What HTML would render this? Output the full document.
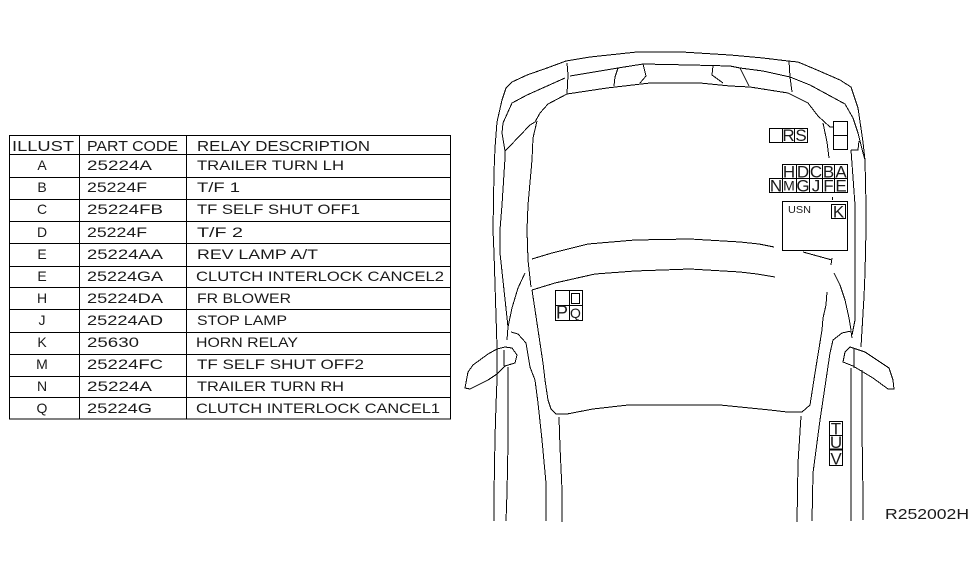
<!DOCTYPE html>
<html><head><meta charset="utf-8"><style>
html,body{margin:0;padding:0;background:#fff}
svg{display:block}
text{font-family:"Liberation Sans",sans-serif;fill:#1a1a1a;font-size:14px}
.l{font-size:17px;text-anchor:middle}
.c{text-anchor:middle;font-size:14px}
</style></head><body>
<svg width="975" height="566" viewBox="0 0 975 566" xmlns="http://www.w3.org/2000/svg">
<rect width="975" height="566" fill="#fff"/>
<g fill="none" stroke="#000" stroke-width="1" shape-rendering="crispEdges">
<rect x="9.5" y="135.5" width="441" height="283.5"/>
<path d="M79.5 135V419M186.5 135V419"/>
<path d="M9 154.5H451M9 177.5H451M9 199.5H451M9 221.5H451M9 243.5H451M9 266.5H451M9 287.5H451M9 309.5H451M9 332.5H451M9 354.5H451M9 376.5H451M9 397.5H451"/>
</g>
<g>
<text x="12" y="151" textLength="62" lengthAdjust="spacingAndGlyphs" style="font-size:15px">ILLUST</text>
<text x="87" y="151" textLength="91" lengthAdjust="spacingAndGlyphs" style="font-size:15px">PART CODE</text>
<text x="197" y="151" textLength="173" lengthAdjust="spacingAndGlyphs" style="font-size:15px">RELAY DESCRIPTION</text>
<text class="c" x="42" y="170">A</text><text class="c" x="42" y="192">B</text><text class="c" x="42" y="214">C</text><text class="c" x="42" y="237">D</text><text class="c" x="42" y="259">E</text><text class="c" x="42" y="281">E</text><text class="c" x="42" y="303">H</text><text class="c" x="42" y="325">J</text><text class="c" x="42" y="347">K</text><text class="c" x="42" y="369">M</text><text class="c" x="42" y="391">N</text><text class="c" x="42" y="413">Q</text>
<text x="87" y="170" textLength="65" lengthAdjust="spacingAndGlyphs">25224A</text>
<text x="87" y="192" textLength="60" lengthAdjust="spacingAndGlyphs">25224F</text>
<text x="87" y="214" textLength="76" lengthAdjust="spacingAndGlyphs">25224FB</text>
<text x="87" y="237" textLength="60" lengthAdjust="spacingAndGlyphs">25224F</text>
<text x="87" y="259" textLength="76" lengthAdjust="spacingAndGlyphs">25224AA</text>
<text x="87" y="281" textLength="76" lengthAdjust="spacingAndGlyphs">25224GA</text>
<text x="87" y="303" textLength="76" lengthAdjust="spacingAndGlyphs">25224DA</text>
<text x="87" y="325" textLength="76" lengthAdjust="spacingAndGlyphs">25224AD</text>
<text x="87" y="347" textLength="52" lengthAdjust="spacingAndGlyphs">25630</text>
<text x="87" y="369" textLength="76" lengthAdjust="spacingAndGlyphs">25224FC</text>
<text x="87" y="391" textLength="65" lengthAdjust="spacingAndGlyphs">25224A</text>
<text x="87" y="413" textLength="65" lengthAdjust="spacingAndGlyphs">25224G</text>
<text x="197" y="170" textLength="147" lengthAdjust="spacingAndGlyphs">TRAILER TURN LH</text>
<text x="197" y="192" textLength="43" lengthAdjust="spacingAndGlyphs">T/F 1</text>
<text x="197" y="214" textLength="163" lengthAdjust="spacingAndGlyphs">TF SELF SHUT OFF1</text>
<text x="197" y="237" textLength="46" lengthAdjust="spacingAndGlyphs">T/F 2</text>
<text x="197" y="259" textLength="121" lengthAdjust="spacingAndGlyphs">REV LAMP A/T</text>
<text x="196" y="281" textLength="248" lengthAdjust="spacingAndGlyphs">CLUTCH INTERLOCK CANCEL2</text>
<text x="197" y="303" textLength="94" lengthAdjust="spacingAndGlyphs">FR BLOWER</text>
<text x="197" y="325" textLength="90" lengthAdjust="spacingAndGlyphs">STOP LAMP</text>
<text x="196" y="347" textLength="102" lengthAdjust="spacingAndGlyphs">HORN RELAY</text>
<text x="197" y="369" textLength="167" lengthAdjust="spacingAndGlyphs">TF SELF SHUT OFF2</text>
<text x="197" y="391" textLength="147" lengthAdjust="spacingAndGlyphs">TRAILER TURN RH</text>
<text x="196" y="413" textLength="244" lengthAdjust="spacingAndGlyphs">CLUTCH INTERLOCK CANCEL1</text>
</g>
<g fill="none" stroke="#000" stroke-width="1" stroke-linejoin="round" shape-rendering="crispEdges">
<polyline points="494,521 494,495 495,437 496,405 497,380 497,347 494,253 493,230 494,172 495,148 497,122 502,100 506,88 512,82 527,75 547,68 566,61 590,57 637,52 682,52 730,55 763,58 788,61 798,62 817,70 840,80 851,87 858,108 863,142 865,160 866,205 866,230 865,273 864,297 862,330 861,347"/>
<polyline points="862,370 862,430 863,497 863,520"/>
<polyline points="506,521 507,493 508,443 508,367"/>
<polyline points="507,340 508,327 500,253 500,230 502,205 505,158 505,151 502,133 503,123 512,103 527,95 565,78"/>
<polyline points="505,151 509,147 530,125 535,122 540,113 548,104 567,94 607,88 650,83 700,83 730,86 750,87 788,93 808,103 818,116 830,127 833,127"/>
<polyline points="537,121 533,138 532,160 528,205 527,230 528,260 531,287"/>
<polyline points="567,63 568,75 567,94"/>
<polyline points="570,76 618,68 643,64 690,65 730,66 740,68 763,71 790,77 810,85 845,104 853,118 858,133 863,153 865,160"/>
<polyline points="618,68 615,77 614,86"/>
<polyline points="643,64 646,76 640,83"/>
<polyline points="713,66 712,75 723,83"/>
<polyline points="740,68 749,86"/>
<polyline points="789,61 790,77 792,92"/>
<polyline points="823,123 827,142 829,158"/>
<polyline points="851,150 858,150 859,141"/>
<polyline points="851,150 855,205 855,320 852,335"/>
<polyline points="852,338 851,331 842,333 833,340 830,353 820,420 813,473 812,521"/>
<polyline points="851,368 851,521"/>
<polyline points="532,259 552,253 588,244 635,240 690,239 740,242 759,244 774,247"/>
<polyline points="532,290 555,283 595,274 635,271 690,269 740,272 757,274 775,277"/>
<polyline points="532,290 537,323 543,363 545,380 548,400 551,409 556,414 567,414 593,409 628,405 680,405 720,405 770,410 787,412 802,412 810,405 815,373 822,330 823,318 826,305 827,292"/>
<polyline points="511,332 518,334 526,343 530,367 535,380 538,403 542,440 546,483 546,521"/>
<polyline points="525,273 518,288 512,308 508,327 507,340"/>
<polyline points="505,347 497,349 488,354 473,365 468,372 465,388 470,389 488,380 497,374 505,366 515,363 517,355 512,348 505,347"/>
<polyline points="504,350 504,366"/>
<polyline points="559,417 560,447 562,490 562,522"/>
<polyline points="801,416 798,463 797,522"/>
<polyline points="803,252 832,260"/>
<polyline points="832,258 831,265"/>
<polyline points="834,273 840,285 845,300 849,318 851,330"/>
<polyline points="850,347 845,352 843,362 853,366 873,378 888,389 894,389 893,380 889,368 880,362 865,352 853,348 850,347"/>
<polyline points="854,349 854,368"/>
<rect x="769.5" y="128.5" width="38" height="14"/><path d="M782.5 128V142M794.5 128V142"/>
<rect x="833.5" y="121.5" width="14" height="28"/><path d="M833 135.5H848"/>
<rect x="782.5" y="164.5" width="65" height="14"/><path d="M796.5 164V178M809.5 164V178M822.5 164V178M834.5 164V178"/>
<rect x="769.5" y="178.5" width="78" height="14"/><path d="M782.5 178V192M796.5 178V192M809.5 178V192M822.5 178V192M834.5 178V192"/>
<path d="M832.5 197V200"/>
<rect x="782.5" y="201.5" width="65" height="49"/>
<rect x="831.5" y="204.5" width="14" height="14"/>
<rect x="555.5" y="290.5" width="27" height="30"/><path d="M569.5 290V320M555 305.5H582"/>
<rect x="571.5" y="293.5" width="8" height="10"/>
<rect x="829.5" y="421.5" width="13" height="44"/><path d="M829 435.5H843"/><path d="M829 449.5H843" stroke-width="2"/>
</g>
<g>
<text class="l" x="788.5" y="141">R</text><text class="l" x="801" y="141">S</text>
<text class="l" x="789" y="177.5">H</text><text class="l" x="803" y="177.5">D</text><text class="l" x="816" y="177.5">C</text><text class="l" x="828.5" y="177.5">B</text><text class="l" x="841" y="177.5">A</text>
<text class="l" x="776" y="191.5">N</text><text class="l" x="789" y="190.5" style="font-size:14px">M</text><text class="l" x="803" y="191.5">G</text><text class="l" x="816" y="191.5">J</text><text class="l" x="828.5" y="191.5">F</text><text class="l" x="841" y="191.5">E</text>
<text class="l" x="838.5" y="217.5">K</text>
<text x="788" y="213" textLength="23" lengthAdjust="spacingAndGlyphs" style="font-size:10px">USN</text>
<text class="l" x="562" y="318.5" style="font-size:18px">P</text><text class="l" x="575.5" y="318" style="font-size:14px">Q</text>
<text class="l" x="836" y="434.5">T</text><text class="l" x="836" y="448">U</text><text class="l" x="836" y="464.5">V</text>
<text x="885" y="519" textLength="84" lengthAdjust="spacingAndGlyphs" style="font-size:15px">R252002H</text>
</g>
</svg>
</body></html>
